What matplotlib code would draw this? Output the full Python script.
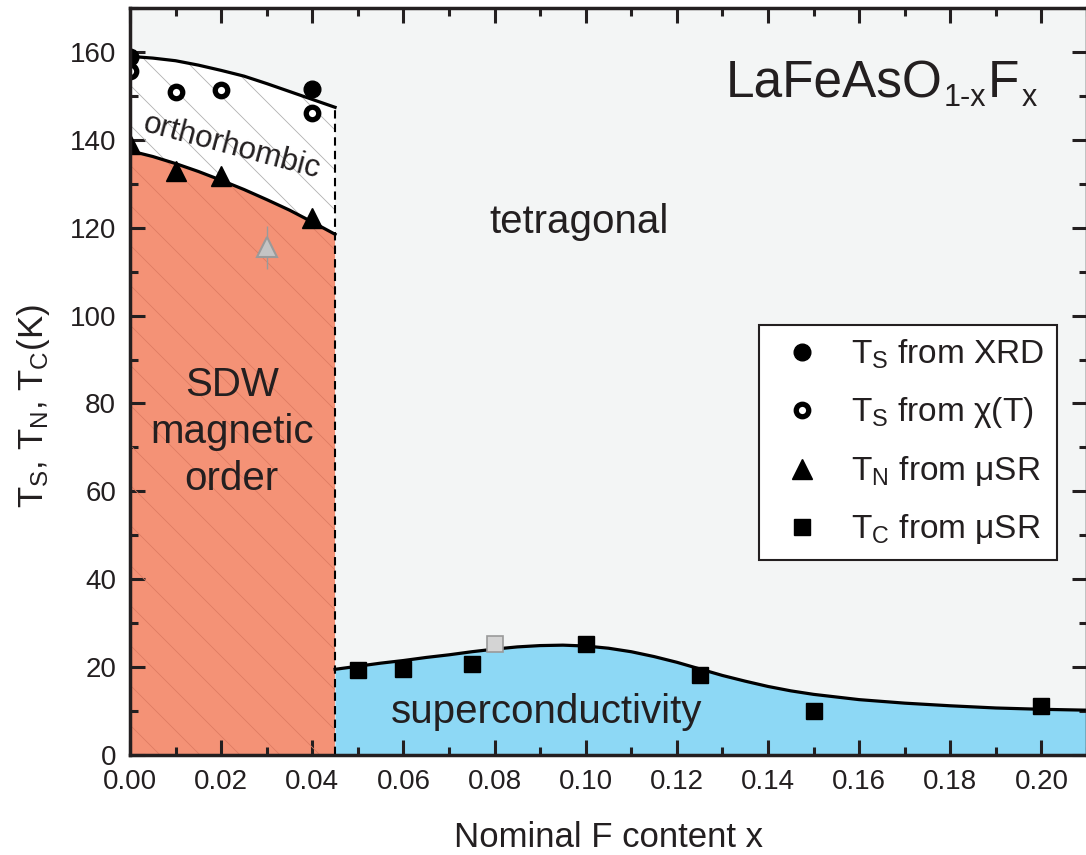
import numpy as np
import matplotlib
matplotlib.use('Agg')
import matplotlib.pyplot as plt

plt.rcParams['font.family'] = ['Liberation Sans', 'DejaVu Sans']
plt.rcParams['mathtext.fontset'] = 'custom'
plt.rcParams['mathtext.rm'] = 'Liberation Sans'
plt.rcParams['mathtext.it'] = 'Liberation Sans:italic'

# phase boundaries
x_bound = [0.0, 0.005, 0.01, 0.015, 0.02, 0.025, 0.03, 0.035, 0.04, 0.045]
ts_line = [159.0, 158.6, 158.0, 157.0, 155.8, 154.5, 152.8, 151.0, 149.2, 147.4]
tn_line = [137.5, 136.2, 134.6, 132.8, 130.8, 128.7, 126.4, 124.0, 121.3, 118.5]
x_sc = [0.045, 0.05, 0.055, 0.06, 0.065, 0.07, 0.075, 0.08, 0.085, 0.09, 0.095, 0.10,
        0.105, 0.11, 0.115, 0.12, 0.125, 0.13, 0.135, 0.14, 0.145, 0.15, 0.16, 0.17,
        0.18, 0.19, 0.20, 0.21]
tc_line = [19.5, 20.2, 20.9, 21.5, 22.2, 22.8, 23.5, 24.1, 24.6, 24.9, 25.0, 24.8,
           24.3, 23.5, 22.4, 21.1, 19.6, 18.1, 16.8, 15.6, 14.6, 13.8, 12.6, 11.8,
           11.2, 10.7, 10.4, 10.2]
x_edge = 0.045

# data points
x_xrd = [0.0, 0.04]
ts_xrd = [158.8, 151.5]
x_chi = [0.0, 0.01, 0.02, 0.04]
ts_chi = [155.6, 150.8, 151.3, 146.2]
x_tn = [0.0, 0.01, 0.02, 0.04]
tn_musr = [139.0, 132.8, 131.7, 122.3]
x_tn_gray = [0.03]
tn_gray = [115.5]
tn_gray_err = [5.0]
x_tc = [0.05, 0.06, 0.075, 0.10, 0.125, 0.15, 0.20]
tc_musr = [19.4, 19.6, 20.7, 25.3, 18.2, 10.0, 11.2]
x_tc_gray = [0.08]
tc_gray = [25.3]

fig = plt.figure(figsize=(10.86, 8.55), dpi=100)
ax = fig.add_axes([130/1086, 100/855, 957/1086, 747/855])
ax.set_facecolor('#f3f5f5')
ax.set_xlim(0, 0.21)
ax.set_ylim(0, 170)

salmon = '#f49276'
blue = '#8dd8f5'
txt = '#231f20'

# filled regions
sdw = ax.fill([0.0] + x_bound + [x_edge], [0.0] + tn_line + [0.0], color=salmon, lw=0, zorder=1)[0]
ortho = ax.fill(x_bound + x_bound[::-1], ts_line + tn_line[::-1], color='white', lw=0, zorder=1)[0]
ax.fill_between(x_sc, 0, tc_line, color=blue, lw=0, zorder=1)

# diagonal hatching, clipped to the regions
w, h = ax.bbox.width, ax.bbox.height
for u in np.arange(-1.0, 0.4, 40 / w):
    ax.plot([u, u + h / w], [1, 0], transform=ax.transAxes, color='#de7c63', lw=0.6,
            zorder=2, clip_path=sdw)
    ax.plot([u, u + h / w], [1, 0], transform=ax.transAxes, color='#b0b0b0', lw=0.6,
            zorder=2, clip_path=ortho)

# boundary lines
ax.plot(x_bound, ts_line, color='black', lw=2.3, zorder=3)
ax.plot(x_bound, tn_line, color='black', lw=2.3, zorder=3)
ax.plot(x_sc, tc_line, color='black', lw=2.3, zorder=3)
ax.plot([x_edge, x_edge], [0, ts_line[-1]], color='black', lw=1.5, ls=(0, (4, 2.5)), zorder=3)

# markers
ax.plot(x_xrd, ts_xrd, 'o', color='black', ms=12, zorder=5, label=r'T$_{\rm S}$ from XRD')
ax.plot(x_chi, ts_chi, 'o', mfc='white', mec='black', mew=3.8, ms=9, zorder=5,
        label=r'T$_{\rm S}$ from χ(T)')
ax.plot(x_tn, tn_musr, '^', color='black', ms=14, zorder=5, label=r'T$_{\rm N}$ from μSR')
ax.plot(x_tc, tc_musr, 's', color='black', ms=11, zorder=5, label=r'T$_{\rm C}$ from μSR')
ax.errorbar(x_tn_gray, tn_gray, yerr=tn_gray_err, fmt='^', mfc='#c4c4c4', mec='#9a9a9a',
            ecolor='#9a9a9a', elinewidth=1, ms=14, mew=1.5, capsize=0, zorder=4)
ax.plot(x_tc_gray, tc_gray, 's', mfc='#d4d4d4', mec='#9a9a9a', mew=1.2, ms=11, zorder=4)

# labels inside
ax.text(0.0986, 121.4, 'tetragonal', fontsize=29, color=txt, ha='center', va='center')
ax.text(0.0223, 73.5, 'SDW\nmagnetic\norder', fontsize=29, color=txt, ha='center', va='center',
        linespacing=1.3)
ax.text(0.0223, 138.3, 'orthorhombic', fontsize=22.5, color=txt, ha='center', va='center',
        rotation=-15, rotation_mode='anchor')
ax.text(0.0913, 9.8, 'superconductivity', fontsize=29, color=txt, ha='center', va='center')

# compound name with hand-placed subscripts
t1 = ax.text(0.1308, 149.7, 'LaFeAsO', fontsize=37, color=txt, ha='left', va='baseline')
t2 = ax.annotate('1-x', xy=(1, 0), xycoords=t1, xytext=(1, -5), textcoords='offset pixels',
                 fontsize=22, color=txt, ha='left', va='bottom')
t3 = ax.annotate('F', xy=(1, 0), xycoords=t2, xytext=(1, 5), textcoords='offset pixels',
                 fontsize=37, color=txt, ha='left', va='bottom')
ax.annotate('x', xy=(1, 0), xycoords=t3, xytext=(3, -5), textcoords='offset pixels',
            fontsize=22, color=txt, ha='left', va='bottom')

# axes styling
ax.set_xticks(np.arange(0, 0.21, 0.02))
ax.set_xticks(np.arange(0, 0.215, 0.01), minor=True)
ax.set_yticks(np.arange(0, 161, 20))
ax.set_yticks(np.arange(0, 171, 10), minor=True)
ax.set_xticklabels(['%.2f' % v for v in np.arange(0, 0.21, 0.02)])
ax.tick_params(which='both', direction='in', top=True, right=True, width=2.2, colors=txt,
               labelsize=20, labelcolor=txt)
ax.tick_params(which='major', length=11, pad=10)
ax.tick_params(which='minor', length=6)
for s in ax.spines.values():
    s.set_linewidth(2.5)
    s.set_color(txt)
    s.set_zorder(6)

ax.set_xlabel('Nominal F content x', fontsize=25, color=txt)
ax.xaxis.set_label_coords(0.5, -0.088)
ax.set_ylabel(r'T$_{\rm S}$, T$_{\rm N}$, T$_{\rm C}$(K)', fontsize=25, color=txt)
ax.yaxis.set_label_coords(-0.082, 0.467)

leg = ax.legend(loc='upper right', bbox_to_anchor=(0.969, 0.576), borderaxespad=0,
                fontsize=24, frameon=True, fancybox=False, edgecolor=txt, facecolor='white',
                framealpha=1, labelspacing=0.72, handletextpad=0.55, borderpad=0.4,
                handlelength=1.8)
leg.get_frame().set_linewidth(1.5)
for t in leg.get_texts():
    t.set_color(txt)

fig.savefig('out.png', dpi=100)
